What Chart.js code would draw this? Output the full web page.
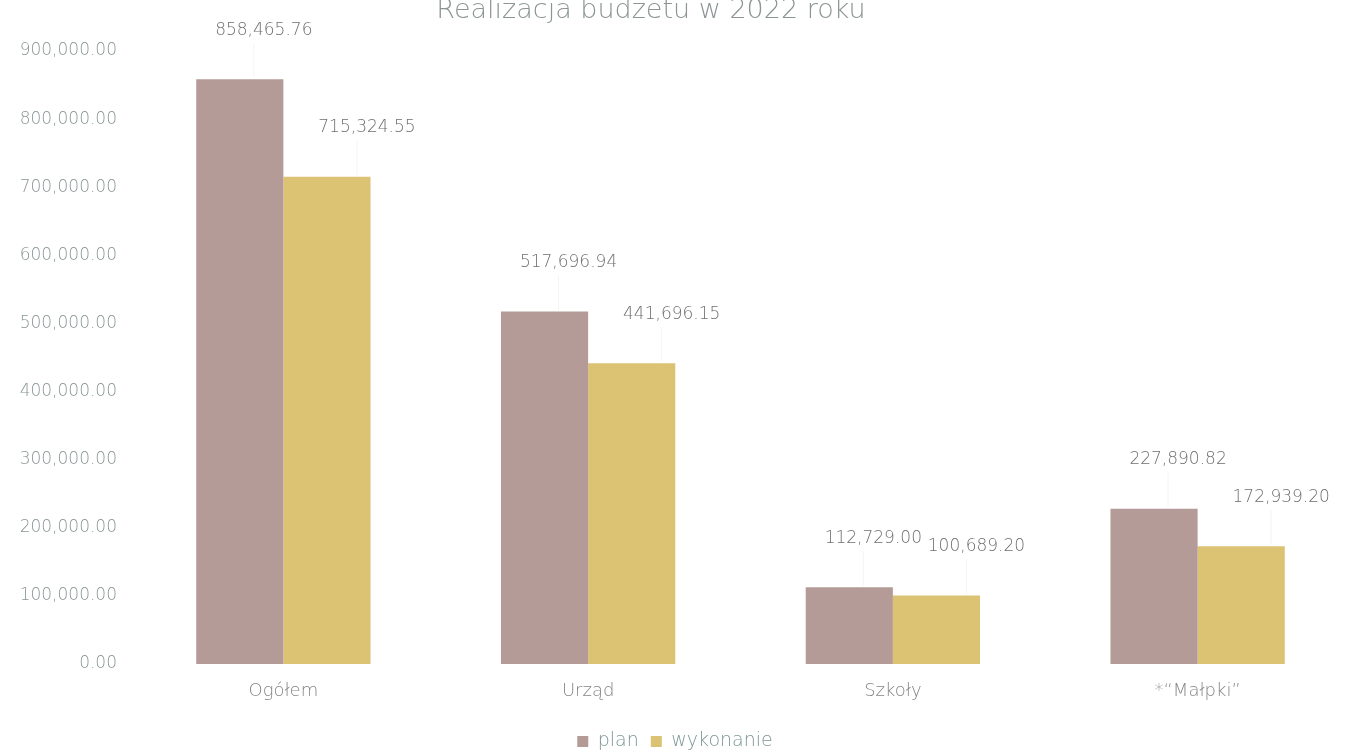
<!DOCTYPE html>
<html><head><meta charset="utf-8">
<script src="https://cdn.jsdelivr.net/npm/chart.js@4/dist/chart.umd.min.js"></script>
<style>
html,body{margin:0;padding:0;background:#fff;overflow:hidden;}
#wrap{position:relative;width:1345px;height:753px;overflow:hidden;background:#fff;}
#c{position:absolute;left:0;top:0;}
</style></head><body>
<div id="wrap"><canvas id="c" width="1350" height="763"></canvas></div>
<script>
const titleText = 'Realizacja budżetu w 2022 roku';
const categories = ['Ogółem', 'Urząd', 'Szkoły', '*“Małpki”'];
const seriesNames = ['plan', 'wykonanie'];
const planValues = [858465.76, 517696.94, 112729.00, 227890.82];
const wykonanieValues = [715324.55, 441696.15, 100689.20, 172939.20];
const yMin = 0, yMax = 900000, yStep = 100000;

const FONT = '"DejaVu Sans", sans-serif';
const fmt = v => Number(v).toLocaleString('en-US', {minimumFractionDigits: 2, maximumFractionDigits: 2});

const labelOffsets = [24, 40];

const titlePlugin = {
  id: 'topTitle',
  afterDraw(chart) {
    const ctx = chart.ctx;
    ctx.save();
    ctx.font = '200 27px ' + FONT;
    ctx.fillStyle = '#8c9494';
    ctx.textAlign = 'center';
    ctx.textBaseline = 'alphabetic';
    ctx.fillText(titleText, 651, 18);
    ctx.restore();
  }
};

const valueLabels = {
  id: 'valueLabels',
  afterDatasetsDraw(chart) {
    const ctx = chart.ctx;
    ctx.save();
    chart.data.datasets.forEach((ds, i) => {
      const meta = chart.getDatasetMeta(i);
      meta.data.forEach((bar, j) => {
        const lx = bar.x + labelOffsets[i];
        const ly = bar.y - 49;
        ctx.strokeStyle = 'rgba(200,200,200,0.2)';
        ctx.lineWidth = 1;
        ctx.beginPath();
        ctx.moveTo(lx - 10, ly + 13);
        ctx.lineTo(lx - 10, bar.y - 2);
        ctx.stroke();
        ctx.font = '200 17px ' + FONT;
        ctx.fillStyle = '#6e6e6e';
        ctx.textAlign = 'center';
        ctx.textBaseline = 'middle';
        ctx.fillText(fmt(ds.data[j]), lx, ly);
      });
    });
    ctx.restore();
  }
};

new Chart(document.getElementById('c'), {
  type: 'bar',
  data: {
    labels: categories,
    datasets: [
      {label: seriesNames[0], data: planValues, backgroundColor: '#b49b97', barPercentage: 1, categoryPercentage: 0.572},
      {label: seriesNames[1], data: wykonanieValues, backgroundColor: '#dcc273', barPercentage: 1, categoryPercentage: 0.572}
    ]
  },
  options: {
    responsive: false,
    animation: false,
    devicePixelRatio: 1,
    layout: {padding: {top: 51, left: 0, right: 0, bottom: 2}},
    plugins: {
      legend: {
        position: 'bottom',
        labels: {boxWidth: 11, boxHeight: 11, padding: 12, color: '#7d9696', font: {family: FONT, size: 19, weight: '200'}}
      },
      tooltip: {enabled: false},
      title: {display: false}
    },
    scales: {
      x: {
        grid: {display: false}, border: {display: false},
        ticks: {color: '#858585', padding: 9, font: {family: FONT, size: 18, weight: '200'}},
        afterFit(s) { s.height = 56; }
      },
      y: {
        min: yMin, max: yMax,
        grid: {display: false}, border: {display: false},
        ticks: {stepSize: yStep, callback: v => fmt(v), color: '#8a9595', padding: 6, font: {family: FONT, size: 17, weight: '200'}},
        afterFit(s) { s.width = 131; }
      }
    }
  },
  plugins: [titlePlugin, valueLabels]
});
</script>
</body></html>
